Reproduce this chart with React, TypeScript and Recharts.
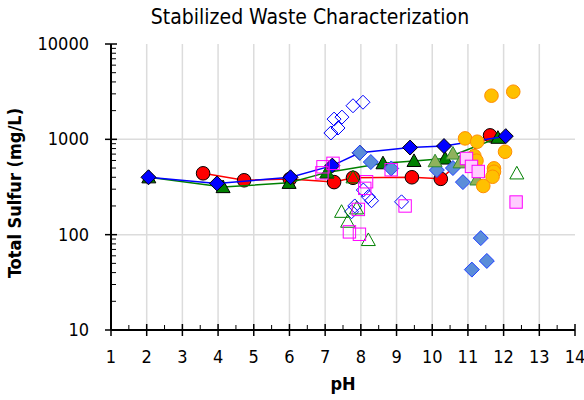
import React from 'react';
import { ScatterChart, Scatter, XAxis, YAxis, CartesianGrid } from 'recharts';

// connected series
const bluePh = [2.05, 3.97, 6.03, 7.2, 7.97, 9.38, 10.33, 12.06];
const blueS = [400, 345, 400, 530, 724, 820, 850, 1080];
const redPh = [3.58, 4.73, 6.01, 7.25, 7.78, 9.43, 10.24, 11.62];
const redS = [440, 372, 383, 356, 395, 400, 385, 1100];
const greenPh = [2.06, 4.14, 5.99, 7.05, 8.62, 9.49, 10.36, 11.84];
const greenS = [400, 316, 350, 450, 562, 594, 630, 1040];

// loose points
const openDiaPh = [7.16, 7.36, 7.25, 7.47, 7.78, 8.06, 8.07, 8.21, 8.3, 7.83, 7.74, 9.14];
const openDiaS = [1165, 1315, 1630, 1710, 2250, 2450, 294, 250, 227, 200, 174, 221];
const steelPh = [7.97, 8.28, 8.85, 10.13, 10.58, 10.86, 11.36, 11.53, 11.11];
const steelS = [724, 578, 495, 476, 500, 356, 92, 53, 43];
const olivePh = [10.08, 10.58, 10.78, 11.25];
const oliveS = [590, 710, 575, 380];
const openTriPh = [7.05, 7.78, 7.46, 7.63, 7.88, 8.21, 12.37];
const openTriS = [450, 400, 174, 137, 189, 88, 440];
const orangePh = [11.66, 12.27, 10.92, 11.26, 12.04, 11.18, 11.24, 11.73, 11.73, 11.69, 11.43];
const orangeS = [2870, 3160, 1023, 944, 741, 668, 597, 496, 457, 405, 324];
const openSqPh = [6.94, 7.22, 6.91, 8.16, 8.11, 7.93, 7.68, 7.96, 9.24, 8.85];
const openSqS = [515, 560, 445, 359, 306, 184, 107, 101, 200, 480];
const pinkSqPh = [10.96, 11.1, 11.29, 12.35];
const pinkSqS = [630, 520, 460, 220];

const xTicks = [1, 1.5, 2, 2.5, 3, 3.5, 4, 4.5, 5, 5.5, 6, 6.5, 7, 7.5, 8, 8.5, 9, 9.5, 10, 10.5, 11, 11.5, 12, 12.5, 13, 13.5, 14];
const yTicks = [10, 20, 30, 40, 50, 60, 70, 80, 90, 100, 200, 300, 400, 500, 600, 700, 800, 900, 1000, 2000, 3000, 4000, 5000, 6000, 7000, 8000, 9000, 10000];
const xGrid = [2, 3, 4, 5, 6, 7, 8, 9, 10, 11, 12, 13];
const yGrid = [100, 1000];

const zip = (xs: number[], ys: number[]) => xs.map((x, i) => ({ x, y: ys[i] }));

const FONT = '"DejaVu Sans Condensed", "DejaVu Sans", sans-serif';

type Kind = 'circle' | 'diamond' | 'triangle' | 'square';

const marker = (kind: Kind, fill: string, stroke: string, r: number, sw = 1) => (p: any) => {
  const { cx, cy } = p;
  if (cx == null || cy == null) return <g />;
  if (kind === 'circle') return <circle cx={cx} cy={cy} r={r} fill={fill} stroke={stroke} strokeWidth={sw} />;
  if (kind === 'square')
    return <rect x={cx - r} y={cy - r} width={2 * r} height={2 * r} fill={fill} stroke={stroke} strokeWidth={sw} />;
  if (kind === 'diamond')
    return (
      <polygon
        points={`${cx},${cy - r} ${cx + r},${cy} ${cx},${cy + r} ${cx - r},${cy}`}
        fill={fill}
        stroke={stroke}
        strokeWidth={sw}
      />
    );
  return (
    <polygon
      points={`${cx},${cy - r} ${cx + r},${cy + r * 0.8} ${cx - r},${cy + r * 0.8}`}
      fill={fill}
      stroke={stroke}
      strokeWidth={sw}
    />
  );
};

const XTick = (p: any) => {
  const { x, y, payload } = p;
  const v = payload.value;
  const major = Number.isInteger(v);
  return (
    <g>
      {major ? (
        <line x1={x} x2={x} y1={y - 6} y2={y + 6} stroke="#000" strokeWidth={1.5} />
      ) : (
        <line x1={x} x2={x} y1={y - 5} y2={y} stroke="#000" strokeWidth={1} />
      )}
      {major && (
        <text x={x} y={y + 33} textAnchor="middle" fontSize={18} fontFamily={FONT} fill="#000">
          {v}
        </text>
      )}
    </g>
  );
};

const YTick = (p: any) => {
  const { x, y, payload } = p;
  const v = payload.value;
  const lg = Math.log10(v);
  const major = Math.abs(lg - Math.round(lg)) < 1e-6;
  return (
    <g>
      {major ? (
        <line x1={x - 6} x2={x + 6} y1={y} y2={y} stroke="#000" strokeWidth={1.5} />
      ) : (
        <line x1={x} x2={x + 5} y1={y} y2={y} stroke="#000" strokeWidth={1} />
      )}
      {major && (
        <text x={x - 22} y={y + 6} textAnchor="end" fontSize={18} fontFamily={FONT} fill="#000">
          {v}
        </text>
      )}
    </g>
  );
};

export default function App() {
  return (
    <div style={{ position: 'absolute', left: 0, top: 0, width: 584, height: 400, background: '#fff' }}>
      <div
        style={{
          position: 'absolute',
          left: 0,
          width: 620,
          top: 5,
          textAlign: 'center',
          fontFamily: FONT,
          fontSize: 21,
          color: '#000',
        }}
      >
        Stabilized Waste Characterization
      </div>
      <div
        style={{
          position: 'absolute',
          left: 14,
          top: 193,
          transform: 'translate(-50%, -50%) rotate(-90deg)',
          whiteSpace: 'nowrap',
          fontFamily: FONT,
          fontWeight: 'bold',
          fontSize: 18,
          color: '#000',
        }}
      >
        Total Sulfur (mg/L)
      </div>
      <div
        style={{
          position: 'absolute',
          left: 343,
          top: 383,
          transform: 'translate(-50%, -50%)',
          fontFamily: FONT,
          fontWeight: 'bold',
          fontSize: 18,
          color: '#000',
        }}
      >
        pH
      </div>
      <ScatterChart width={584} height={400} margin={{ top: 44, right: 9, bottom: 40, left: 11 }}>
        <CartesianGrid stroke="#dcdcdc" strokeWidth={1.5} verticalValues={xGrid} horizontalValues={yGrid} />
        <XAxis
          type="number"
          dataKey="x"
          domain={[1, 14]}
          ticks={xTicks}
          interval={0}
          tickSize={0}
          tickMargin={0}
          tickLine={false}
          axisLine={{ stroke: '#000', strokeWidth: 2 }}
          tick={<XTick />}
          height={30}
          allowDataOverflow
        />
        <XAxis
          xAxisId="top"
          orientation="top"
          type="number"
          domain={[1, 14]}
          tick={false}
          tickLine={false}
          axisLine={{ stroke: '#000', strokeWidth: 1.5 }}
          height={0}
        />
        <YAxis
          type="number"
          dataKey="y"
          scale="log"
          domain={[10, 10000]}
          ticks={yTicks}
          interval={0}
          tickSize={0}
          tickMargin={0}
          tickLine={false}
          axisLine={{ stroke: '#000', strokeWidth: 2 }}
          tick={<YTick />}
          width={100}
          allowDataOverflow
        />
        <YAxis
          yAxisId="right"
          orientation="right"
          type="number"
          domain={[0, 1]}
          tick={false}
          tickLine={false}
          axisLine={{ stroke: '#000', strokeWidth: 1.5 }}
          width={0}
        />
        <Scatter
          data={zip(redPh, redS)}
          line={{ stroke: '#ff0000', strokeWidth: 1.5 }}
          shape={marker('circle', '#ff0000', '#000', 6.8)}
          isAnimationActive={false}
        />
        <Scatter
          data={zip(greenPh, greenS)}
          line={{ stroke: '#008000', strokeWidth: 1.5 }}
          shape={marker('triangle', '#008000', '#000', 7)}
          isAnimationActive={false}
        />
        <Scatter
          data={zip(bluePh, blueS)}
          line={{ stroke: '#0000ff', strokeWidth: 1.5 }}
          shape={marker('diamond', '#0000ff', '#000', 7.5)}
          isAnimationActive={false}
        />
        <Scatter data={zip(openDiaPh, openDiaS)} shape={marker('diamond', 'none', '#0000ff', 7)} isAnimationActive={false} />
        <Scatter data={zip(steelPh, steelS)} shape={marker('diamond', '#5b8dd9', '#1f3fff', 7.5)} isAnimationActive={false} />
        <Scatter data={zip(olivePh, oliveS)} shape={marker('triangle', '#8fb25c', '#2e8b2e', 7)} isAnimationActive={false} />
        <Scatter data={zip(openTriPh, openTriS)} shape={marker('triangle', 'none', '#008000', 7)} isAnimationActive={false} />
        <Scatter data={zip(orangePh, orangeS)} shape={marker('circle', '#ffc000', '#ff8c00', 6.8)} isAnimationActive={false} />
        <Scatter data={zip(openSqPh, openSqS)} shape={marker('square', 'none', '#ff00ff', 6.2)} isAnimationActive={false} />
        <Scatter data={zip(pinkSqPh, pinkSqS)} shape={marker('square', '#ffccff', '#ff00ff', 6.2)} isAnimationActive={false} />
      </ScatterChart>
    </div>
  );
}
